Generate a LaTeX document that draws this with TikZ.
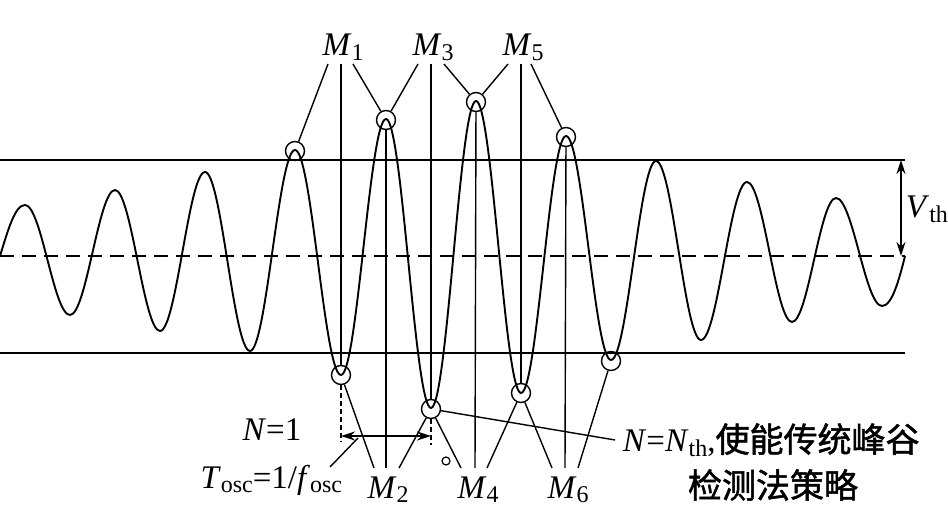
\documentclass[tikz,border=0pt]{standalone}
\usepackage{fontspec}
\setmainfont{Liberation Serif}
\newfontfamily\cjk{Noto Sans CJK SC}[FakeBold=1.5]
\usetikzlibrary{arrows.meta}
\newcommand\mysub[1]{\raisebox{-0.32ex}{\fontsize{24}{26}\selectfont #1}}
\newcommand\mi[1]{\textit{#1}}
\begin{document}
\begin{tikzpicture}[x=1pt,y=-1pt,line width=1.9pt,
  pk/.style={circle,draw,line width=1.4pt,minimum size=19pt,inner sep=0pt},
  lbl/.style={font=\fontsize{33}{35}\selectfont,inner sep=0pt},
  ln/.style={line width=1.4pt}]
\useasboundingbox (0,0) rectangle (948,510);
\draw[ln] (0,160) -- (905,160);
\draw[ln] (0,353) -- (905,353);
\draw[ln,dash pattern=on 14pt off 8pt] (0,256) -- (905,256);
\draw (0,256) .. controls (8,230) and (15,205) .. (25,205)
 \foreach \x/\y [remember=\x as \px (initially 25), remember=\y as \py (initially 205)] in
 {70/315,115/190,160/331,205/172,250/351,295/150,341/375,386/119,431/408,476/101,521/393,566/136,611/360,656/161,701/340,747/182,792/322,836/198,882/306}
 { .. controls ({\px+0.3634*(\x-\px)},\py) and ({\x-0.3634*(\x-\px)},\y) .. (\x,\y) }
 .. controls (892,306) and (899,280) .. (905,256);
% circles
\node[pk] (p1) at (295,151) {};
\node[pk] (p3) at (386,120) {};
\node[pk] (p5) at (476,102) {};
\node[pk] (p7) at (566,137) {};
\node[pk] (t2) at (341,375) {};
\node[pk] (t4) at (431,409) {};
\node[pk] (t6) at (521,393) {};
\node[pk] (t8) at (611,361) {};
\node[circle,draw,line width=1.2pt,minimum size=8pt,inner sep=0pt] (sm) at (446,461) {};
% labels
\node[lbl,anchor=base] (M1) at (343,56) {\mi{M}\mysub{1}};
\node[lbl,anchor=base] (M3) at (433,56) {\mi{M}\mysub{3}};
\node[lbl,anchor=base] (M5) at (523,56) {\mi{M}\mysub{5}};
\node[lbl,anchor=base] (M2) at (388,498) {\mi{M}\mysub{2}};
\node[lbl,anchor=base] (M4) at (478,498) {\mi{M}\mysub{4}};
\node[lbl,anchor=base] (M6) at (568,498) {\mi{M}\mysub{6}};
\coordinate (a1) at (328,64); \coordinate (a2) at (341,64); \coordinate (a3) at (353,64);
\coordinate (a4) at (418,64); \coordinate (a5) at (431,64); \coordinate (a6) at (444,64);
\coordinate (a7) at (508,64); \coordinate (a8) at (521,64); \coordinate (a9) at (531,64);
\coordinate (b1) at (374,468); \coordinate (b2) at (386,468); \coordinate (b3) at (399,468);
\coordinate (b4) at (461,468); \coordinate (b5) at (475,468); \coordinate (b6) at (487,468);
\coordinate (b7) at (552,468); \coordinate (b8) at (565,468); \coordinate (b9) at (578,468);
\draw[ln] (a1) -- (p1); \draw[ln] (a2) -- (t2); \draw[ln] (a3) -- (p3);
\draw[ln] (a4) -- (p3); \draw[ln] (a5) -- (t4); \draw[ln] (a6) -- (p5);
\draw[ln] (a7) -- (p5); \draw[ln] (a8) -- (t6); \draw[ln] (a9) -- (p7);
\draw[ln] (b1) -- (t2); \draw[ln] (b2) -- (p3); \draw[ln] (b3) -- (t4);
\draw[ln] (b4) -- (t4); \draw[ln] (b5) -- (p5); \draw[ln] (b6) -- (t6);
\draw[ln] (b7) -- (t6); \draw[ln] (b8) -- (p7); \draw[ln] (b9) -- (t8);
% Tosc
\coordinate (d1) at (341,442); \coordinate (d2) at (431,445);
\draw[ln,dash pattern=on 5pt off 3pt] (t2.south) -- (d1);
\draw[ln,dash pattern=on 5pt off 3pt] (t4.south) -- (d2);
\coordinate (e1) at (341,436); \coordinate (e2) at (431,436);
\draw[ln,{Stealth[length=14pt,width=9pt]}-{Stealth[length=14pt,width=9pt]}] (e1) -- (e2);
\node[lbl,anchor=base] (N1) at (272,441) {\mi{N}=1};
\node[lbl,anchor=base east] (T) at (343,488) {\mi{T}\mysub{osc}=1/\mi{f}\mysub{osc}};
\coordinate (f1) at (330,467); \coordinate (f2) at (358,438);
\draw[ln] (f1) -- (f2);
% Nth
\node[lbl,anchor=base west] (Nth) at (622,452) {\mi{N}=\mi{N}\mysub{th},{\cjk\fontsize{34}{36}\selectfont 使能传统峰谷}};
\node[lbl,anchor=base] (Nth2) at (773,498) {\cjk\fontsize{34}{36}\selectfont 检测法策略};
\coordinate (g1) at (615,440);
\draw[ln] (t4) -- (g1);
% Vth
\coordinate (v1) at (901,160); \coordinate (v2) at (901,256);
\draw[ln,{Stealth[length=14pt,width=9pt]}-{Stealth[length=14pt,width=9pt]}] (v1) -- (v2);
\node[lbl,anchor=base west] (V) at (905,218) {\mi{V}\mysub{th}};
\end{tikzpicture}
\end{document}
